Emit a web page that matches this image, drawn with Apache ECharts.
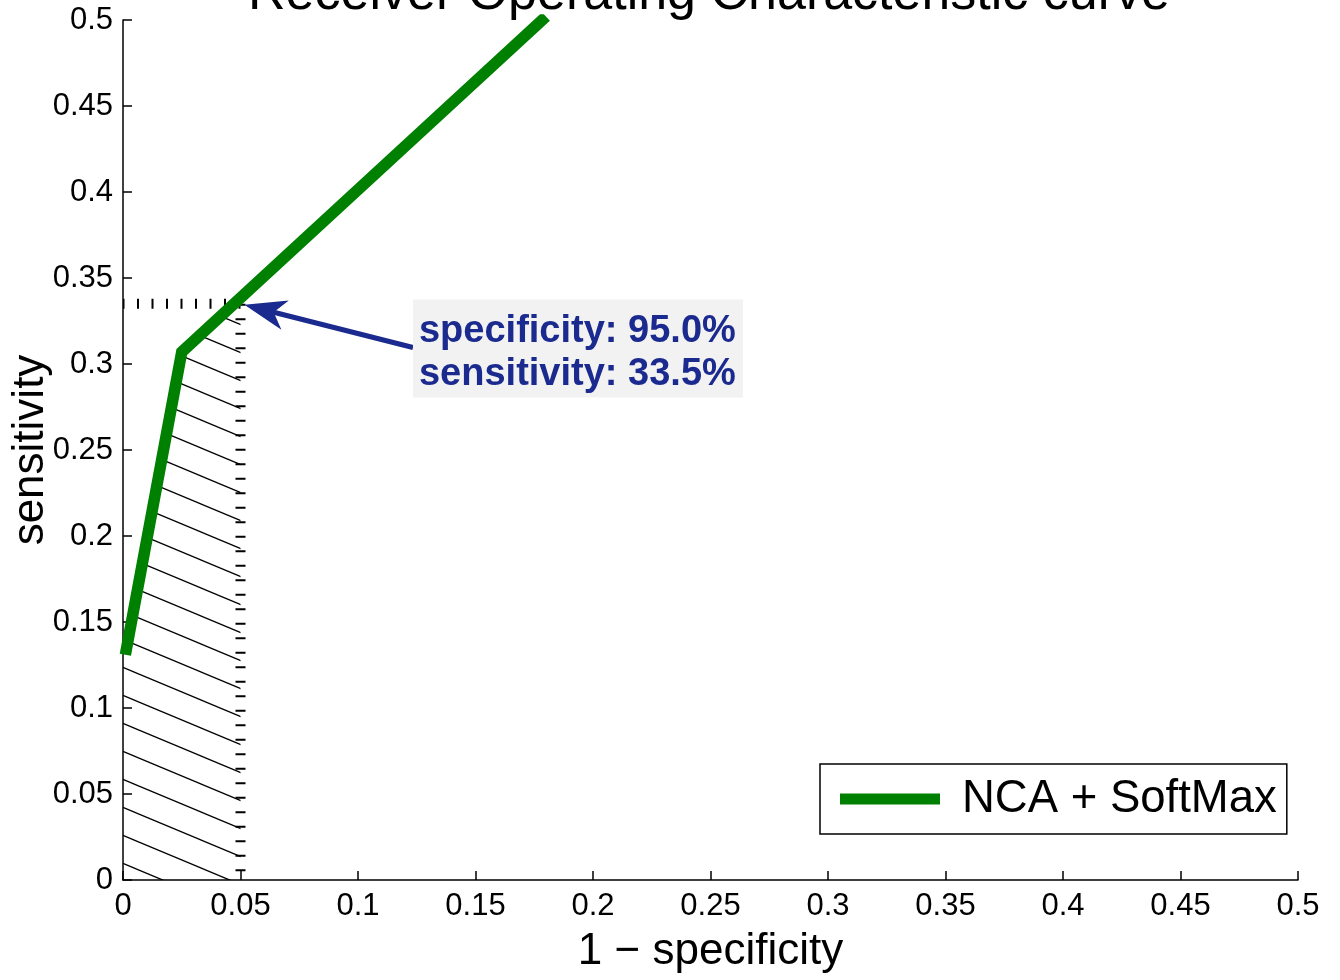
<!DOCTYPE html>
<html>
<head>
<meta charset="utf-8">
<script src="https://cdn.jsdelivr.net/npm/echarts@6/dist/echarts.min.js"></script>
<style>
html,body{margin:0;padding:0;background:#fff;}
#chart{width:1340px;height:980px;}
</style>
</head>
<body>
<div id="chart"></div>
<script>
// ROC curve points (1 - specificity, sensitivity)
const rocFpr = [0.001, 0.025, 0.18];
const rocTpr = [0.131, 0.307, 0.502];
// operating point
const cutoffFpr = 0.05;
const cutoffTpr = 0.335;
const seriesName = 'NCA + SoftMax';
const titleText = 'Receiver Operating Characteristic curve';
const xName = '1 \u2212 specificity';
const yName = 'sensitivity';
const axisMin = 0, axisMax = 0.5, axisStep = 0.05;

const FONT = 'Liberation Sans, Arial, Helvetica, sans-serif';
const ANNOT_COLOR = '#1b2a8e';

// hatch pattern
function makeHatch() {
  const W = 67, H = 28;
  const c = document.createElement('canvas');
  c.width = W; c.height = H;
  const g = c.getContext('2d');
  g.strokeStyle = '#000';
  g.lineWidth = 1.3;
  for (let k = -1; k <= 1; k++) {
    g.beginPath();
    g.moveTo(-2, k * H - 2 * H / W);
    g.lineTo(W + 2, k * H + H + 2 * H / W);
    g.stroke();
  }
  return c;
}

const rocData = rocFpr.map((x, i) => [x, rocTpr[i]]);
const hatchData = [[axisMin, rocTpr[0]]]
  .concat(rocData.filter(p => p[0] < cutoffFpr))
  .concat([[cutoffFpr, cutoffTpr]]);

const chart = echarts.init(document.getElementById('chart'));
const axisCommon = {
  type: 'value', min: axisMin, max: axisMax, interval: axisStep,
  axisLine: { show: true, onZero: false, lineStyle: { color: '#000', width: 1.5 } },
  axisTick: { show: true, inside: true, length: 9, lineStyle: { color: '#000', width: 1.5 } },
  splitLine: { show: false },
  axisLabel: { color: '#000', fontSize: 31, fontFamily: FONT },
  nameLocation: 'middle',
  nameMoveOverlap: false,
  nameTextStyle: { color: '#000', fontSize: 44, fontFamily: FONT }
};

chart.setOption({
  animation: false,
  backgroundColor: '#fff',
  title: {
    text: titleText, left: 704, textAlign: 'center', top: -36,
    textStyle: { fontSize: 52, fontWeight: 'normal', color: '#000', fontFamily: FONT }
  },
  grid: { left: 123, right: 42, top: 20, bottom: 100, containLabel: false, outerBoundsMode: 'none' },
  xAxis: Object.assign({}, axisCommon, {
    name: xName, nameGap: 50,
    axisLabel: Object.assign({}, axisCommon.axisLabel, { margin: 11 })
  }),
  yAxis: Object.assign({}, axisCommon, {
    name: yName, nameGap: 70,
    axisLabel: Object.assign({}, axisCommon.axisLabel, { margin: 10 })
  }),
  legend: {
    data: [seriesName],
    left: 820, top: 764,
    icon: 'rect', itemWidth: 100, itemHeight: 11, itemGap: 0,
    itemTextGap: 22,
    padding: [10, 10, 10, 20],
    borderColor: '#000', borderWidth: 1.5, backgroundColor: '#fff',
    textStyle: { fontSize: 45.5, color: '#000', fontFamily: FONT, lineHeight: 50, padding: [0, 0, 0, 17] }
  },
  series: [
    {
      name: 'hatch', type: 'line', data: hatchData, symbol: 'none',
      lineStyle: { width: 0, opacity: 0 },
      areaStyle: { color: { image: makeHatch(), repeat: 'repeat' }, opacity: 1 },
      silent: true, z: 1
    },
    {
      name: 'vcut', type: 'line', data: [[cutoffFpr, cutoffTpr], [cutoffFpr, axisMin]],
      symbol: 'none', silent: true, z: 2,
      lineStyle: { color: '#000', width: 10, type: [2, 12.5] }
    },
    {
      name: 'hcut', type: 'line', data: [[cutoffFpr, cutoffTpr], [axisMin, cutoffTpr]],
      symbol: 'none', silent: true, z: 2,
      lineStyle: { color: '#000', width: 10, type: [2, 12.5] }
    },
    {
      name: seriesName, type: 'line', data: rocData, symbol: 'none',
      lineStyle: { color: '#008000', width: 11.5, cap: 'butt', join: 'miter' },
      itemStyle: { color: '#008000' },
      clip: true, z: 5
    }
  ]
});

// annotation: arrow + text box
const annotAnchor = [0.1234, 0.3375]; // top-left of text box in data coords
const tipPx = chart.convertToPixel({ gridIndex: 0 }, [cutoffFpr, cutoffTpr]);
const boxPx = chart.convertToPixel({ gridIndex: 0 }, annotAnchor);
const boxW = 330, boxH = 98;
const startPx = [boxPx[0], boxPx[1] + 48];
let dx = startPx[0] - tipPx[0], dy = startPx[1] - tipPx[1];
const len = Math.hypot(dx, dy);
const u = [dx / len, dy / len], p = [-u[1], u[0]];
const tip = [tipPx[0] + u[0] * 4, tipPx[1] + u[1] * 4];
const L = 42, HW = 15;
const head = [
  tip,
  [tip[0] + u[0] * L + p[0] * HW, tip[1] + u[1] * L + p[1] * HW],
  [tip[0] + u[0] * L * 0.72, tip[1] + u[1] * L * 0.72],
  [tip[0] + u[0] * L - p[0] * HW, tip[1] + u[1] * L - p[1] * HW]
];
const specTxt = 'specificity: ' + ((1 - cutoffFpr) * 100).toFixed(1) + '%';
const sensTxt = 'sensitivity: ' + (cutoffTpr * 100).toFixed(1) + '%';

chart.setOption({
  graphic: [
    { type: 'line', z: 20, shape: { x1: startPx[0], y1: startPx[1], x2: tip[0] + u[0] * L * 0.6, y2: tip[1] + u[1] * L * 0.6 },
      style: { stroke: ANNOT_COLOR, lineWidth: 5 } },
    { type: 'polygon', z: 20, shape: { points: head }, style: { fill: ANNOT_COLOR } },
    { type: 'rect', z: 21, shape: { x: boxPx[0], y: boxPx[1], width: boxW, height: boxH },
      style: { fill: '#f2f2f2' } },
    { type: 'text', z: 22, x: boxPx[0] + 6, y: boxPx[1] + 32,
      style: { text: specTxt, fill: ANNOT_COLOR, font: 'bold 38px ' + FONT, verticalAlign: 'middle', align: 'left' } },
    { type: 'text', z: 22, x: boxPx[0] + 6, y: boxPx[1] + 75,
      style: { text: sensTxt, fill: ANNOT_COLOR, font: 'bold 38px ' + FONT, verticalAlign: 'middle', align: 'left' } }
  ]
});
</script>
</body>
</html>
